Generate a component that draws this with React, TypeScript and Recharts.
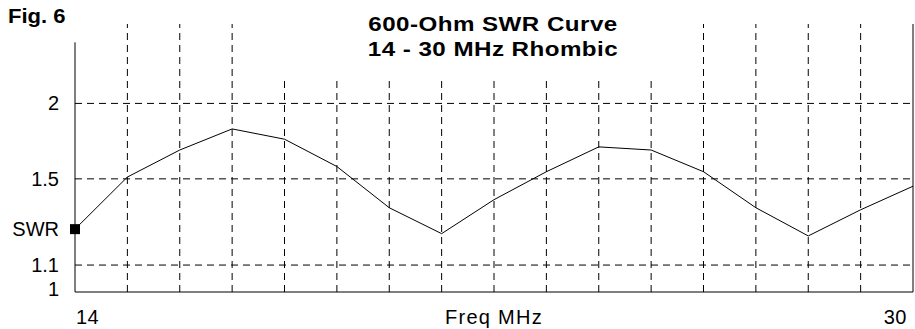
import { LineChart, Line, XAxis, YAxis, ReferenceLine } from 'recharts';

// frequency in MHz and SWR
const freqs = [14, 15, 16, 17, 18, 19, 20, 21, 22, 23, 24, 25, 26, 27, 28, 29, 30];
const swr = [1.25, 1.51, 1.67, 1.81, 1.74, 1.57, 1.35, 1.23, 1.39, 1.54, 1.69, 1.67, 1.54, 1.35, 1.22, 1.34, 1.46];

const yTickValues = [1, 1.1, 1.25, 1.5, 2];
const yTickLabels = ['1', '1.1', 'SWR', '1.5', '2'];
const yGridValues = [1.1, 1.5, 2];
const xGridValues = [15, 16, 17, 18, 19, 20, 21, 22, 23, 24, 25, 26, 27, 28, 29];
const xTickValues = [14, 30];
const yMaxSwr = 2.8;
const leftAxisTopSwr = 2.58;

// the y axis is drawn in reflection coefficient, labelled in SWR
const rho = (s: number) => (s - 1) / (s + 1);

const data = freqs.map((f, i) => ({ f, r: rho(swr[i]) }));

const FONT = '"Liberation Sans", Arial, sans-serif';

const YTick = (props: any) => {
  const { x, y, payload } = props;
  const idx = yTickValues.findIndex(v => Math.abs(rho(v) - payload.value) < 1e-6);
  const label = idx >= 0 ? yTickLabels[idx] : '';
  return (
    <text x={x} y={y + (label === '1' ? -3 : 0)} dy={7} textAnchor="end" fontSize={20} fill="#000" fontFamily={FONT}>
      {label}
    </text>
  );
};

const XTick = (props: any) => {
  const { x, payload } = props;
  const first = payload.value === xTickValues[0];
  return (
    <text x={first ? x + 1 : x} y={324} textAnchor={first ? 'start' : 'end'} fontSize={20} fill="#000" fontFamily={FONT} letterSpacing={0.5}>
      {payload.value}
    </text>
  );
};

const Marker = (props: any) => {
  const { cx, cy, index } = props;
  if (index !== 0) return <g key={index} />;
  return <rect key={index} x={cx - 5} y={cy - 5} width={10} height={10} fill="#000" />;
};

export default function App() {
  return (
    <div style={{ position: 'absolute', left: 0, top: 0, width: 915, height: 329, background: '#fff' }}>
      <LineChart width={915} height={329} data={data} margin={{ top: 24, right: 2, left: 0, bottom: 0 }}>
        <XAxis
          dataKey="f"
          type="number"
          domain={[14, 30]}
          ticks={xTickValues}
          tick={<XTick />}
          tickLine={false}
          height={37}
          axisLine={{ stroke: '#000', strokeWidth: 1 }}
          label={{ value: 'Freq MHz', position: 'insideBottom', offset: 5, fontSize: 20, fill: '#000', fontFamily: FONT, letterSpacing: 1.3 }}
        />
        <YAxis
          type="number"
          domain={[0, rho(yMaxSwr)]}
          ticks={yTickValues.map(rho)}
          tick={<YTick />}
          tickLine={false}
          axisLine={false}
          tickSize={0}
          tickMargin={16}
          width={75}
          allowDataOverflow
        />
        {yGridValues.map(v => (
          <ReferenceLine key={'h' + v} y={rho(v)} stroke="#000" strokeDasharray="7 5" />
        ))}
        {xGridValues.map(v => (
          <ReferenceLine key={'v' + v} x={v} stroke="#000" strokeDasharray="7 5" />
        ))}
        <ReferenceLine segment={[{ x: 14, y: 0 }, { x: 14, y: rho(leftAxisTopSwr) }]} stroke="#000" />
        <ReferenceLine x={30} stroke="#000" />
        <Line
          dataKey="r"
          type="linear"
          stroke="#000"
          strokeWidth={1}
          dot={<Marker />}
          activeDot={false}
          isAnimationActive={false}
        />
      </LineChart>
      <div style={{ position: 'absolute', left: 250, top: 0, width: 430, height: 76, background: '#fff' }} />
      <div
        style={{
          position: 'absolute',
          left: 293,
          top: 11,
          width: 400,
          textAlign: 'center',
          fontFamily: FONT,
          fontWeight: 'bold',
          fontSize: 21,
          letterSpacing: 0.4,
          lineHeight: '25px',
          transform: 'scaleX(1.15)',
          transformOrigin: '50% 0',
        }}
      >
        <div>600-Ohm SWR Curve</div>
        <div>14 - 30 MHz Rhombic</div>
      </div>
      <div
        style={{
          position: 'absolute',
          left: 8,
          top: 4,
          fontFamily: FONT,
          fontWeight: 'bold',
          fontSize: 21,
          lineHeight: '24px',
          transform: 'scaleX(1.05)',
          transformOrigin: '0 0',
        }}
      >
        Fig. 6
      </div>
    </div>
  );
}
